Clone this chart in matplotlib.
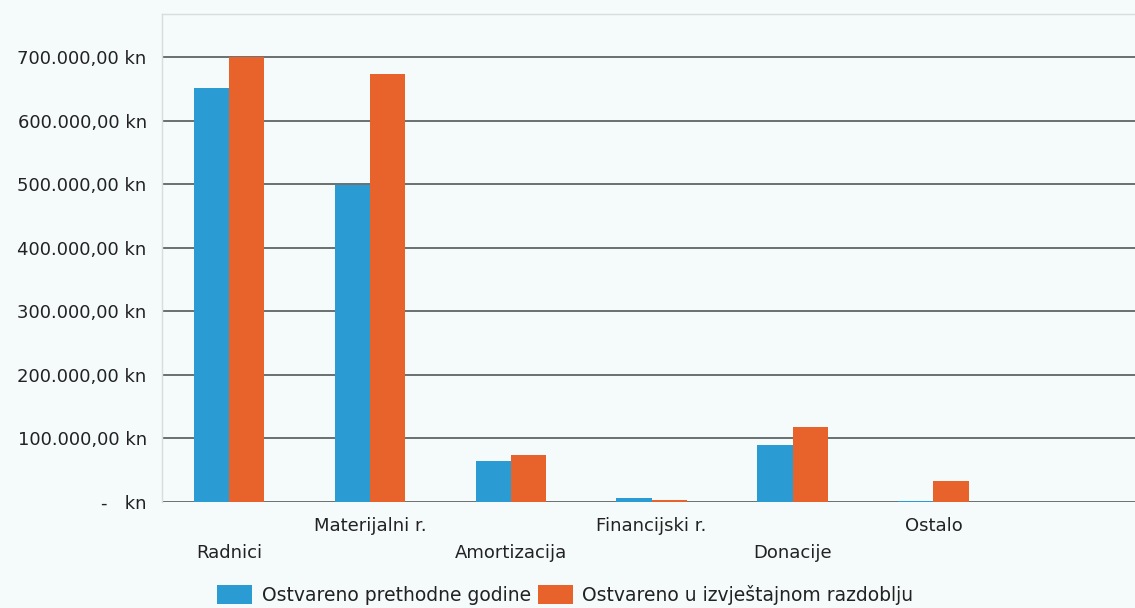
import matplotlib
matplotlib.use("Agg")
import matplotlib.pyplot as plt
from matplotlib.ticker import FuncFormatter
from matplotlib.patches import Patch

categories = ["Radnici", "Materijalni r.", "Amortizacija", "Financijski r.", "Donacije", "Ostalo"]
prethodne = [652000, 499000, 64000, 6000, 90000, 1500]
izvjestajno = [700000, 674000, 74000, 3000, 118000, 33000]
series_names = ["Ostvareno prethodne godine", "Ostvareno u izvještajnom razdoblju"]
y_ticks = [0, 100000, 200000, 300000, 400000, 500000, 600000, 700000]

BLUE = "#2b9bd4"
ORANGE = "#e8632b"
BG = "#f5fafa"
TXT = "#222222"

plt.rcParams['font.family'] = ['DejaVu Sans']

fig = plt.figure(figsize=(11.35, 6.08), dpi=100, facecolor=BG)
ax = fig.add_axes([162/1135, 1-502/608, 1-162/1135, (502-14)/608])
ax.set_facecolor(BG)

x = list(range(len(categories)))
w = 0.25
ax.bar([i - w/2 for i in x], prethodne, width=w, color=BLUE, zorder=3)
ax.bar([i + w/2 for i in x], izvjestajno, width=w, color=ORANGE, zorder=3)

ax.set_xlim(-0.475, 6.43)
ax.set_ylim(0, 768000)
ax.set_yticks(y_ticks)


def fmt(v, pos):
    if v == 0:
        return "-   kn"
    s = f"{v:,.2f}".replace(",", "X").replace(".", ",").replace("X", ".")
    return s + " kn"


ax.yaxis.set_major_formatter(FuncFormatter(fmt))
ax.tick_params(axis='y', length=0, pad=11, labelsize=13, labelcolor=TXT)
ax.set_xticks([])
ax.yaxis.grid(True, color="#5f6464", lw=1.3, zorder=1)

for s in ["right", "bottom"]:
    ax.spines[s].set_visible(False)
for s in ["top", "left"]:
    ax.spines[s].set_color("#d6dede")
    ax.spines[s].set_linewidth(1.0)

for i, cat in enumerate(categories):
    off = -51 if i % 2 == 0 else -24
    ax.annotate(cat, xy=(i, 0), xycoords=('data', 'axes fraction'),
                xytext=(0, off), textcoords='offset pixels',
                ha='center', va='center', fontsize=13, color=TXT)

handles = [Patch(facecolor=BLUE, edgecolor='none'), Patch(facecolor=ORANGE, edgecolor='none')]
fig.legend(handles, series_names, loc='center', bbox_to_anchor=(0.498, 0.022), ncol=2,
           frameon=False, fontsize=13.5, handlelength=1.87, handleheight=1.15,
           handletextpad=0.5, columnspacing=0.35, labelcolor=TXT,
           borderaxespad=0, borderpad=0)

fig.savefig("out.png", dpi=100, facecolor=BG)
